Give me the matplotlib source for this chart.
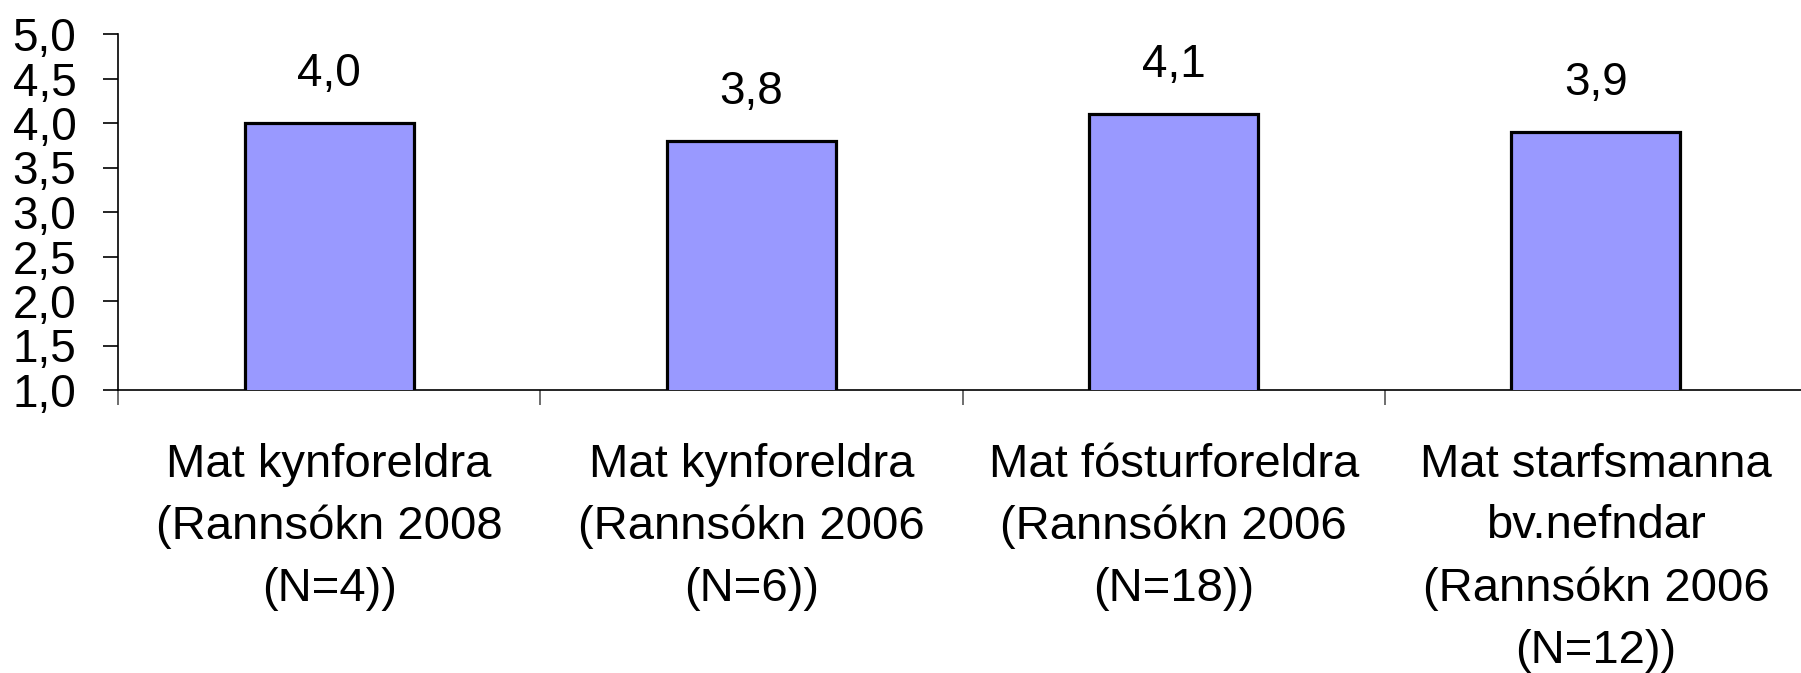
import numpy as np
import matplotlib
matplotlib.use('Agg')
import matplotlib.pyplot as plt

plt.rcParams['font.family'] = ['Liberation Sans', 'DejaVu Sans']

# data
categories = [
    'Mat kynforeldra\n(Rannsókn 2008\n(N=4))',
    'Mat kynforeldra\n(Rannsókn 2006\n(N=6))',
    'Mat fósturforeldra\n(Rannsókn 2006\n(N=18))',
    'Mat starfsmanna\nbv.nefndar\n(Rannsókn 2006\n(N=12))',
]
values = [4.0, 3.8, 4.1, 3.9]
value_labels = ['4,0', '3,8', '4,1', '3,9']
yticks = [1.0, 1.5, 2.0, 2.5, 3.0, 3.5, 4.0, 4.5, 5.0]
ytick_labels = ['1,0', '1,5', '2,0', '2,5', '3,0', '3,5', '4,0', '4,5', '5,0']

fig = plt.figure(figsize=(18.01, 6.73), dpi=100)
ax = fig.add_axes([118 / 1801, 283 / 673, 1689 / 1801, 356 / 673])

x = np.arange(len(values))
bars = ax.bar(x, values, width=0.4, color='#9999FF', edgecolor='black',
              linewidth=2.3, zorder=3)

for xi, v, lab in zip(x, values, value_labels):
    ax.annotate(lab, (xi, v), xytext=(0, 35), textcoords='offset points',
                ha='center', va='center', fontsize=33)

ax.set_xlim(-0.5, len(values) - 0.5)
ax.set_ylim(1.0, 5.0)

# y axis
ax.set_yticks(yticks)
ax.set_yticklabels(ytick_labels)
ax.tick_params(axis='y', direction='out', length=11, width=1.2,
               labelsize=33, pad=19)

# x axis: boundary ticks without labels, labels in the middle
ax.set_xticks(np.arange(len(values) + 1) - 0.5)
ax.set_xticklabels([])
ax.set_xticks(x, minor=True)
ax.set_xticklabels(categories, minor=True, fontsize=34, linespacing=1.52)
ax.tick_params(axis='x', which='major', direction='out', length=11,
               width=1.2, color='#555555')
ax.tick_params(axis='x', which='minor', length=0, pad=38)

for s in ['top', 'right']:
    ax.spines[s].set_visible(False)
ax.spines['left'].set_linewidth(1.2)
ax.spines['bottom'].set_linewidth(1.2)

fig.savefig('out.png', dpi=100)
